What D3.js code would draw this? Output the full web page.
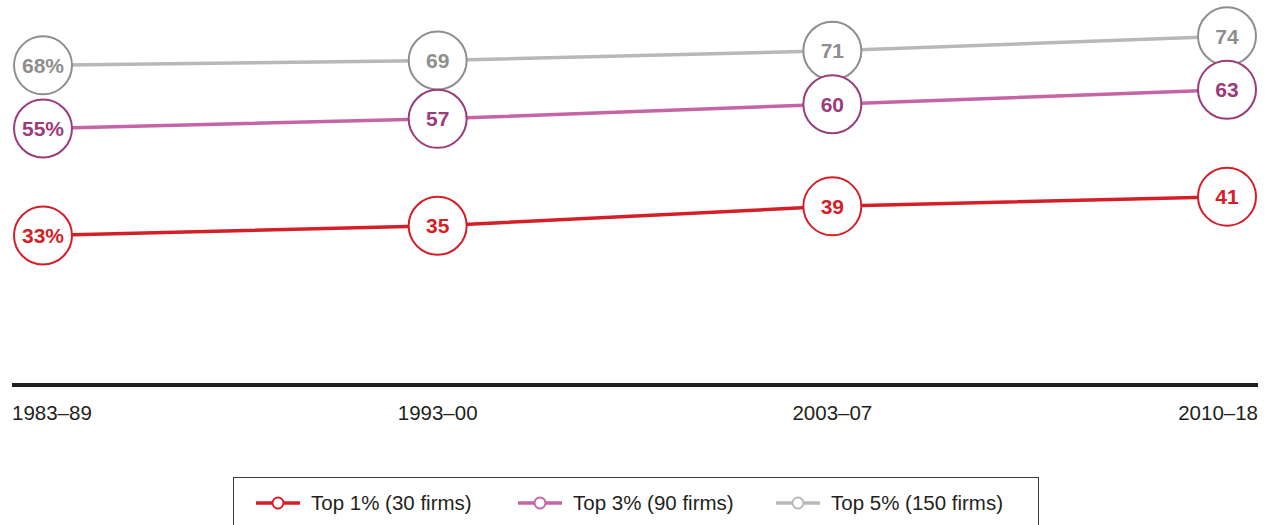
<!DOCTYPE html>
<html>
<head>
<meta charset="utf-8">
<script src="https://cdn.jsdelivr.net/npm/d3@7/dist/d3.min.js"></script>
<style>
  html, body { margin: 0; padding: 0; background: #fff; }
  svg { display: block; font-family: "Liberation Sans", Arial, sans-serif; }
</style>
</head>
<body>
<svg id="chart" width="1269" height="525"></svg>
<script>
// Periods on the x axis
const periods = ["1983–89", "1993–00", "2003–07", "2010–18"];

// Share of total (%) held by the top firms, per period
const top1 = [33, 35, 39, 41];
const top3 = [55, 57, 60, 63];
const top5 = [68, 69, 71, 74];

const seriesNames = ["Top 1% (30 firms)", "Top 3% (90 firms)", "Top 5% (150 firms)"];

const series = [
  { name: seriesNames[2], values: top5, line: "#b8b8b8", mark: "#8e8e8e" },
  { name: seriesNames[1], values: top3, line: "#c764a6", mark: "#9c3b7b" },
  { name: seriesNames[0], values: top1, line: "#d41f28", mark: "#d41f28" }
];

const svg = d3.select("#chart");

const x = d3.scalePoint().domain(periods).range([43, 1227]);
const y = d3.scaleLinear().domain([0, 80]).range([396, 7]);

// Baseline
svg.append("line")
  .attr("x1", 12).attr("x2", 1258)
  .attr("y1", 385).attr("y2", 385)
  .attr("stroke", "#231f20").attr("stroke-width", 4);

// Period labels: first left-aligned, last right-aligned
svg.append("g").selectAll("text")
  .data(periods)
  .join("text")
  .attr("x", (d, i) => i === 0 ? 12 : i === periods.length - 1 ? 1258 : x(d))
  .attr("y", 420)
  .attr("text-anchor", (d, i) => i === 0 ? "start" : i === periods.length - 1 ? "end" : "middle")
  .attr("font-size", 20.5)
  .attr("fill", "#231f20")
  .text(d => d);

const line = d3.line()
  .x((d, i) => x(periods[i]))
  .y(d => y(d));

const r = 29;

series.forEach(s => {
  const g = svg.append("g");
  g.append("path")
    .datum(s.values)
    .attr("d", line)
    .attr("fill", "none")
    .attr("stroke", s.line)
    .attr("stroke-width", 3.5);

  const nodes = g.selectAll("g.node")
    .data(s.values)
    .join("g")
    .attr("class", "node")
    .attr("transform", (d, i) => `translate(${x(periods[i])},${y(d)})`);

  nodes.append("circle")
    .attr("r", r)
    .attr("fill", "#fff")
    .attr("stroke", s.mark)
    .attr("stroke-width", 2);

  nodes.append("text")
    .attr("text-anchor", "middle")
    .attr("dy", "0.36em")
    .attr("font-size", 21)
    .attr("font-weight", "bold")
    .attr("fill", s.mark)
    .text((d, i) => i === 0 ? d + "%" : d);
});

// Legend
const legend = svg.append("g");
legend.append("rect")
  .attr("x", 233.5).attr("y", 477.5)
  .attr("width", 805).attr("height", 60)
  .attr("fill", "#fff")
  .attr("stroke", "#3a3a3a").attr("stroke-width", 1);

const legendItems = [
  { name: seriesNames[0], color: "#d41f28", x0: 256 },
  { name: seriesNames[1], color: "#c764a6", x0: 518 },
  { name: seriesNames[2], color: "#b8b8b8", x0: 776 }
];

const li = legend.selectAll("g.item")
  .data(legendItems)
  .join("g")
  .attr("class", "item")
  .attr("transform", d => `translate(${d.x0},503)`);

li.append("line")
  .attr("x1", 0).attr("x2", 44)
  .attr("stroke", d => d.color).attr("stroke-width", 3.5);
li.append("circle")
  .attr("cx", 22).attr("r", 5.5)
  .attr("fill", "#fff")
  .attr("stroke", d => d.color).attr("stroke-width", 2);
li.append("text")
  .attr("x", 55)
  .attr("dy", "0.35em")
  .attr("font-size", 20.5)
  .attr("fill", "#231f20")
  .text(d => d.name);
</script>
</body>
</html>
